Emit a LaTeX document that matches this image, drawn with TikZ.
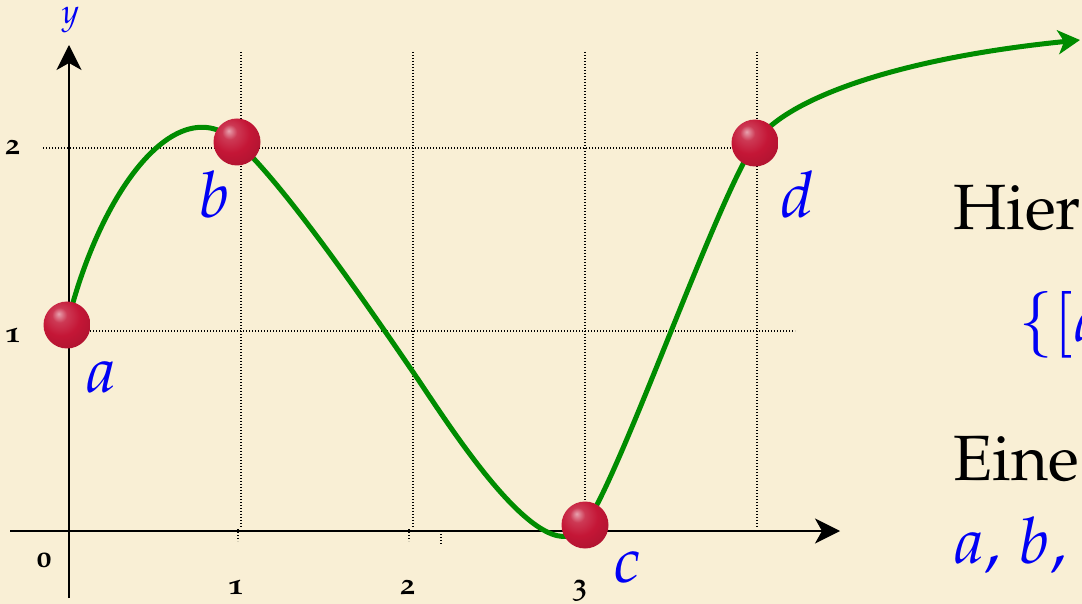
\documentclass[tikz,border=0pt]{standalone}
\usepackage[T1]{fontenc}
\usepackage[osf]{mathpazo}
\usetikzlibrary{arrows.meta}
\definecolor{parch}{RGB}{249,239,213}
\definecolor{curvegreen}{RGB}{0,140,0}
\definecolor{lblue}{RGB}{0,0,245}
\definecolor{ballred}{RGB}{196,22,54}
\pgfdeclareradialshading{redsphere}{\pgfqpoint{-9bp}{12bp}}{%
  color(0bp)=(ballred!40!white);
  color(8bp)=(ballred!85!white);
  color(20bp)=(ballred);
  color(40bp)=(ballred!85!black);
  color(52bp)=(ballred!60!black);
  color(70bp)=(ballred!45!black)}
\begin{document}
\begin{tikzpicture}[x=0.5pt,y=-0.5pt,
  gridline/.style={line width=0.55pt, dash pattern=on 0.55pt off 0.95pt},
  axisline/.style={line width=1pt, -{Stealth[length=12.5pt,width=12.5pt,inset=3.5pt]}},
  fn/.style={curvegreen, line width=2.5pt, -{Stealth[length=11pt,width=12pt,inset=3pt]}},
  redball/.style={circle, minimum size=23.5pt, inner sep=0pt, shading=redsphere},
  lbl/.style={text=lblue, inner sep=0pt, anchor=base west, font=\fontsize{32}{36}\selectfont},
  txt/.style={inner sep=0pt, anchor=base west, font=\fontsize{32}{36}\selectfont},
  ticklbl/.style={inner sep=0pt, anchor=base west, font=\bfseries\fontsize{15}{17}\selectfont},
  ylbl/.style={text=lblue, inner sep=0pt, anchor=base west, font=\fontsize{17}{20}\selectfont}]
\fill[parch] (0,0) rectangle (1082,604);
\useasboundingbox (0,0) rectangle (1082,604);
\clip (0,0) rectangle (1082,604);
% grid
\coordinate (g1t) at (241,52); \coordinate (g1b) at (241,527);
\coordinate (g2t) at (413,52); \coordinate (g2b) at (413,527);
\coordinate (g3t) at (585,52); \coordinate (g3b) at (585,505);
\coordinate (g4t) at (757,52); \coordinate (g4b) at (757,527);
\coordinate (h2l) at (43,148); \coordinate (h2r) at (757,148);
\coordinate (h1l) at (45,331); \coordinate (h1r) at (795,331);
\draw[gridline] (g1t) -- (g1b);
\draw[gridline] (g2t) -- (g2b);
\draw[gridline] (g3t) -- (g3b);
\draw[gridline] (g4t) -- (g4b);
\draw[gridline] (h2l) -- (h2r);
\draw[gridline] (h1l) -- (h1r);
\coordinate (t1a) at (238,529); \coordinate (t1b) at (238,541);
\coordinate (t2a) at (409,529); \coordinate (t2b) at (409,541);
\coordinate (t3a) at (441,531); \coordinate (t3b) at (441,545);
\draw[gridline] (t1a) -- (t1b);
\draw[gridline] (t2a) -- (t2b);
\draw[gridline] (t3a) -- (t3b);
% axes
\coordinate (xs) at (10,531); \coordinate (xe) at (840,531);
\coordinate (ys) at (69,598); \coordinate (ye) at (69,45);
\draw[axisline] (xs) -- (xe);
\draw[axisline] (ys) -- (ye);
% tick labels
\node[ylbl] (ylab) at (61,24) {$y$};
\node[ticklbl] (l2) at (5,155) {2};
\node[ticklbl] (l1) at (5,343) {1};
\node[ticklbl] (l0) at (36,567) {0};
\node[ticklbl] (b1) at (228,594) {1};
\node[ticklbl] (b2) at (400,594) {2};
\node[ticklbl] (b3) at (572,594) {3};
% curve
\coordinate (A) at (67,325);
\coordinate (B) at (237,142);
\coordinate (M) at (413,372);
\coordinate (C) at (585,525);
\coordinate (D) at (755,143);
\coordinate (E) at (1080,40);
\draw[fn] (A) .. controls (100,190) and (177,88) .. (B)
  .. controls (287,187) and (378,321) .. (M)
  .. controls (448,423) and (545,580) .. (C)
  .. controls (620,477) and (715,203) .. (D)
  .. controls (785,98) and (900,58) .. (E);
\node[redball] (ba) at (A) {};
\node[redball] (bb) at (B) {};
\node[redball] (bc) at (C) {};
\node[redball] (bd) at (D) {};
% point labels
\node[lbl] (la) at (85,393) {$a$};
\node[lbl] (lb) at (198,218) {$b$};
\node[lbl] (lc) at (613,582) {$c$};
\node[lbl] (ld) at (780,218) {$d$};
% text on the right
\node[txt] (t1) at (953,230) {Hier};
\node[lbl] (t2) at (1018,342) {$\{[a$};
\node[txt] (t3) at (953,480) {Eine};
\node[lbl] (t4) at (953,563) {$a$, $b$,};
\end{tikzpicture}
\end{document}
